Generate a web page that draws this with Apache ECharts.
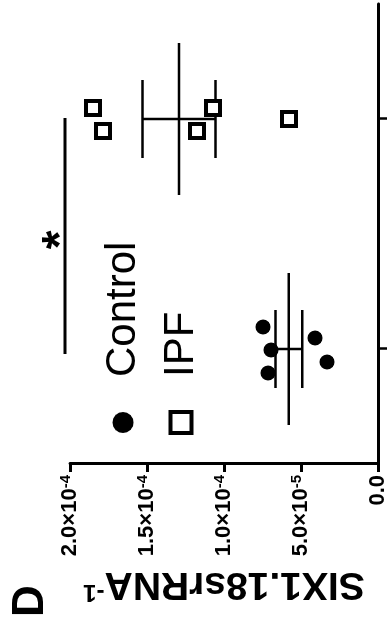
<!DOCTYPE html>
<html>
<head>
<meta charset="utf-8">
<script src="https://cdn.jsdelivr.net/npm/echarts@6/dist/echarts.min.js"></script>
<style>
  html, body { margin: 0; padding: 0; overflow: hidden; background: #fff; }
  #wrap { width: 388px; height: 627px; position: relative; overflow: hidden; }
  /* the figure is printed turned a quarter turn, so draw it upright and rotate */
  #chart {
    position: absolute; left: 0; top: 0;
    width: 627px; height: 388px;
    transform-origin: 0 0;
    transform: translateY(627px) rotate(-90deg);
  }
</style>
</head>
<body>
<div id="wrap"><div id="chart"></div></div>
<script>
const categories = ['Control', 'IPF'];
const controlValues = [7.14e-5, 3.31e-5, 6.95e-5, 4.09e-5, 7.47e-5];
const controlJitter = [-24, -13, -1, 11, 22];
const ipfValues = [1.851e-4, 1.786e-4, 1.175e-4, 1.071e-4, 5.78e-5];
const ipfJitter = [11, -12, -12, 11, 0];
const tickBase = ['0.0', '5.0×10', '1.0×10', '1.5×10', '2.0×10'];
const tickExp = ['', '-5', '-4', '-4', '-4'];
const sigPairs = [[0, 1]];

const FONT = 'Liberation Sans, Arial, Helvetica, sans-serif';

const meanSem = vals => {
  const n = vals.length;
  const m = vals.reduce((a, b) => a + b, 0) / n;
  const sd = Math.sqrt(vals.reduce((a, b) => a + (b - m) * (b - m), 0) / (n - 1));
  return [m, sd / Math.sqrt(n)];
};

const summary = [controlValues, ipfValues].map((vals, i) => [i].concat(meanSem(vals)));

const pointData = (vals, jitter, idx) => vals.map((v, i) => ({
  value: [idx, v],
  symbolOffset: [jitter[i], 0]
}));

const renderMeanSem = (params, api) => {
  const x = api.value(0), m = api.value(1), s = api.value(2);
  const c = api.coord([x, m]);
  const hi = api.coord([x, m + s]);
  const lo = api.coord([x, m - s]);
  const st = { stroke: '#000', lineWidth: 2.5 };
  const hline = (y, half) => ({ type: 'line', shape: { x1: c[0] - half, y1: y, x2: c[0] + half, y2: y }, style: st });
  return {
    type: 'group',
    children: [
      hline(c[1], 76),
      hline(hi[1], 39),
      hline(lo[1], 39),
      { type: 'line', shape: { x1: c[0], y1: hi[1], x2: c[0], y2: lo[1] }, style: st }
    ]
  };
};

const renderSig = (params, api) => {
  const a = api.coord([api.value(0), 0]);
  const b = api.coord([api.value(1), 0]);
  const y = params.coordSys.y - 5;
  return {
    type: 'group',
    children: [
      { type: 'line', shape: { x1: a[0] - 5, y1: y, x2: b[0] + 1, y2: y }, style: { stroke: '#000', lineWidth: 3 } },
      { type: 'text', x: (a[0] + b[0]) / 2 - 6, y: y + 21,
        style: { text: '*', fontSize: 48, fontWeight: 'bold', fontFamily: FONT, fill: '#000', align: 'center', verticalAlign: 'bottom' } }
    ]
  };
};

const chart = echarts.init(document.getElementById('chart'), null, { renderer: 'canvas' });

const option = {
  backgroundColor: '#fff',
  animation: false,
  grid: { left: 163, right: 4, top: 70, bottom: 10, containLabel: false, outerBoundsMode: 'none' },
  graphic: [
    { type: 'text', left: 10, top: 9, style: { text: 'D', fontSize: 44, fontWeight: 'bold', fontFamily: FONT, fill: '#000' } }
  ],
  legend: {
    orient: 'vertical',
    left: 187,
    top: 96,
    itemGap: 14,
    itemWidth: 21,
    itemHeight: 21,
    data: [
      { name: 'Control', icon: 'circle', itemStyle: { color: '#000', borderWidth: 0 } },
      { name: 'IPF', icon: 'rect', itemStyle: { color: '#fff', borderColor: '#000', borderWidth: 4 } }
    ],
    textStyle: { fontSize: 42, fontFamily: FONT, color: '#000', lineHeight: 44, padding: [0, 0, 0, 30] }
  },
  xAxis: {
    type: 'category',
    data: categories,
    axisLine: { lineStyle: { color: '#000', width: 3 } },
    axisTick: { show: true, alignWithLabel: true, length: 9, lineStyle: { color: '#000', width: 2.5 } },
    axisLabel: { show: false },
    splitLine: { show: false }
  },
  yAxis: {
    type: 'value',
    min: 0,
    max: 2e-4,
    interval: 5e-5,
    name: '{b|SIX1.18srRNA}{s|-1}',
    nameLocation: 'middle',
    nameRotate: 90,
    nameGap: 100,
    nameMoveOverlap: false,
    nameTextStyle: {
      rich: {
        b: { fontSize: 39, fontWeight: 'bold', fontFamily: FONT, color: '#000', lineHeight: 40 },
        s: { fontSize: 24, fontWeight: 'bold', fontFamily: FONT, color: '#000', lineHeight: 40, verticalAlign: 'top' }
      }
    },
    axisLine: { show: true, lineStyle: { color: '#000', width: 3 } },
    axisTick: { show: true, length: 8, lineStyle: { color: '#000', width: 3 } },
    splitLine: { show: false },
    axisLabel: {
      margin: 11,
      formatter: v => {
        const i = Math.round(v / 5e-5);
        return tickExp[i] ? '{b|' + tickBase[i] + '}{s|' + tickExp[i] + '}' : '{b|' + tickBase[i] + '}';
      },
      rich: {
        b: { fontSize: 22, fontWeight: 'bold', fontFamily: FONT, color: '#000', lineHeight: 24 },
        s: { fontSize: 15, fontWeight: 'bold', fontFamily: FONT, color: '#000', lineHeight: 24, verticalAlign: 'top' }
      }
    }
  },
  series: [
    {
      name: 'Control',
      type: 'scatter',
      symbol: 'circle',
      symbolSize: 15,
      itemStyle: { color: '#000', opacity: 1 },
      data: pointData(controlValues, controlJitter, 0)
    },
    {
      name: 'IPF',
      type: 'scatter',
      symbol: 'rect',
      symbolSize: 14,
      itemStyle: { color: '#fff', borderColor: '#000', borderWidth: 4, opacity: 1 },
      data: pointData(ipfValues, ipfJitter, 1)
    },
    {
      name: 'meanSem',
      type: 'custom',
      renderItem: renderMeanSem,
      data: summary,
      z: 1
    },
    {
      name: 'sig',
      type: 'custom',
      renderItem: renderSig,
      clip: false,
      data: sigPairs,
      z: 3
    }
  ]
};

chart.setOption(option);
</script>
</body>
</html>
